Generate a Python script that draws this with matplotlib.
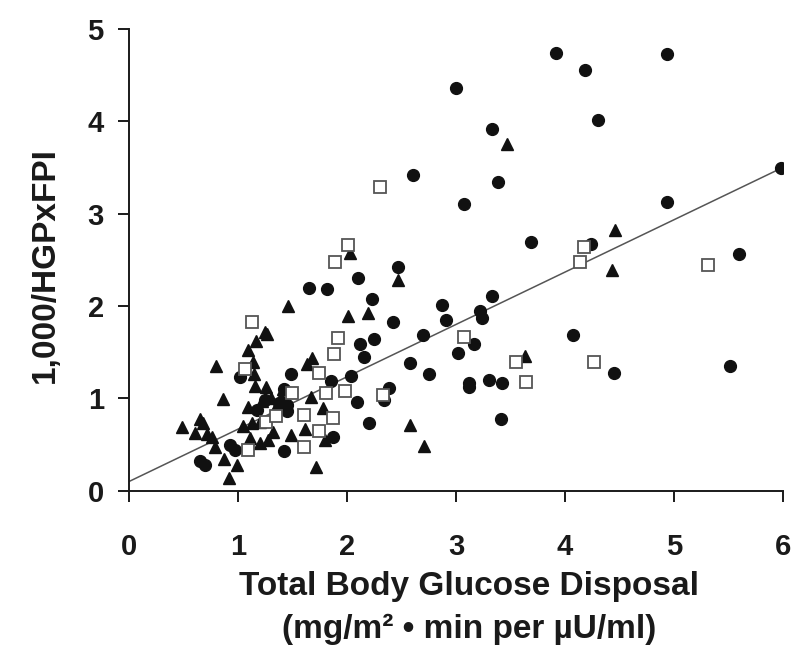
import numpy as np
import matplotlib
matplotlib.use("Agg")
import matplotlib.pyplot as plt

plt.rcParams['font.family'] = ['Liberation Sans', 'DejaVu Sans']

# filled circles
circle_x = [3.92, 4.94, 4.18, 3.00, 4.30, 3.33, 3.39, 3.07, 4.94, 5.98, 2.61,
            3.69, 4.24, 5.60, 3.33, 2.87, 2.91, 3.22, 3.24, 3.17, 3.02, 4.07,
            4.45, 5.51, 3.12, 3.12, 3.30, 3.42, 3.41,
            2.47, 2.10, 1.65, 1.82, 2.23, 2.42, 2.12, 2.25, 2.70, 2.16, 2.58,
            2.75, 1.49, 1.85, 2.04, 2.39, 2.34, 2.09, 1.45, 1.45, 2.20, 1.87,
            1.42, 1.02, 1.42, 0.93, 0.97, 0.65, 0.70, 1.25, 1.38, 1.18]
circle_y = [4.74, 4.73, 4.56, 4.36, 4.01, 3.92, 3.34, 3.11, 3.13, 3.49, 3.42,
            2.69, 2.67, 2.56, 2.11, 2.01, 1.85, 1.95, 1.87, 1.59, 1.49, 1.69,
            1.28, 1.35, 1.17, 1.12, 1.20, 1.17, 0.78,
            2.42, 2.30, 2.20, 2.18, 2.08, 1.83, 1.59, 1.64, 1.69, 1.45, 1.38,
            1.27, 1.26, 1.19, 1.24, 1.11, 0.98, 0.96, 0.93, 0.86, 0.74, 0.58,
            0.43, 1.23, 1.10, 0.50, 0.44, 0.32, 0.28, 0.98, 0.95, 0.88]

# filled triangles
tri_x = [3.47, 4.46, 4.43, 3.63,
         2.03, 2.47, 1.46, 2.01, 2.19, 1.68, 1.63, 1.41, 1.67, 1.78, 2.58,
         1.49, 1.62, 1.80, 2.71, 1.72,
         1.25, 1.27, 1.17, 1.09, 0.80, 1.14, 1.15, 1.16, 1.26, 0.86, 1.09,
         0.65, 0.68, 0.49, 0.61, 0.72, 0.76, 1.05, 1.13, 1.20, 1.11, 1.20,
         0.79, 1.28, 0.87, 0.99, 0.92, 1.32,
         1.22, 1.30, 1.36, 1.40, 1.33]
tri_y = [3.76, 2.82, 2.39, 1.46,
         2.58, 2.28, 2.00, 1.89, 1.93, 1.44, 1.37, 1.10, 1.02, 0.90, 0.71,
         0.61, 0.67, 0.55, 0.49, 0.26,
         1.72, 1.70, 1.62, 1.52, 1.35, 1.40, 1.27, 1.13, 1.12, 0.99, 0.91,
         0.78, 0.74, 0.69, 0.63, 0.62, 0.58, 0.70, 0.74, 0.75, 0.57, 0.52,
         0.48, 0.55, 0.34, 0.28, 0.14, 0.64,
         0.97, 1.00, 0.92, 1.02, 0.86]

# open squares
sq_x = [4.17, 4.14, 5.31, 3.07, 3.55, 4.27, 3.64,
        2.30, 2.01, 1.89, 1.92, 1.88, 1.74, 1.50, 1.81, 1.98, 2.33, 1.61,
        1.87, 1.74, 1.61,
        1.13, 1.07, 1.26, 1.35, 1.09]
sq_y = [2.64, 2.48, 2.45, 1.67, 1.39, 1.40, 1.18,
        3.29, 2.66, 2.48, 1.65, 1.48, 1.28, 1.06, 1.06, 1.08, 1.04, 0.82,
        0.79, 0.65, 0.48,
        1.83, 1.32, 0.75, 0.81, 0.44]

# regression line
fit_intercept = 0.10
fit_slope = 0.567

fig = plt.figure(figsize=(7.95, 6.58), dpi=100)
ax = fig.add_axes([0.162, 0.254, 0.823, 0.702])

xs = np.array([0, 6])
ax.plot(xs, fit_intercept + fit_slope * xs, color='#555555', lw=1.1, zorder=1)

ax.plot(tri_x, tri_y, linestyle='none', marker='^', ms=8, color='#111111',
        mec='#111111', zorder=3)
ax.plot(circle_x, circle_y, linestyle='none', marker='o', ms=8.5, color='#111111',
        mec='#111111', zorder=3)
ax.plot(sq_x, sq_y, linestyle='none', marker='s', ms=8, mfc='white',
        mec='#555555', mew=1.3, zorder=4)

ax.set_xlim(0, 6)
ax.set_ylim(0, 5)
ax.set_xticks(range(7))
ax.set_yticks(range(6))
for s in ['top', 'right']:
    ax.spines[s].set_visible(False)
for s in ['left', 'bottom']:
    ax.spines[s].set_linewidth(1.4)
    ax.spines[s].set_color('#1a1a1a')
ax.tick_params(direction='out', length=8, width=1.4, color='#1a1a1a',
               labelsize=21)
for lbl in ax.get_xticklabels() + ax.get_yticklabels():
    lbl.set_fontweight('bold')
    lbl.set_color('#1a1a1a')
ax.xaxis.set_tick_params(pad=22)
ax.yaxis.set_tick_params(pad=10)

fig.text(0.057, 0.597, '1,000/HGPxFPI', rotation=90, ha='center', va='center',
         fontsize=24, fontweight='bold', color='#1a1a1a')
fig.text(0.590, 0.108, 'Total Body Glucose Disposal', ha='center', va='center',
         fontsize=24, fontweight='bold', color='#1a1a1a')
fig.text(0.590, 0.043, '(mg/m² • min per µU/ml)', ha='center',
         va='center', fontsize=24, fontweight='bold', color='#1a1a1a')

fig.savefig('out.png', dpi=100)
